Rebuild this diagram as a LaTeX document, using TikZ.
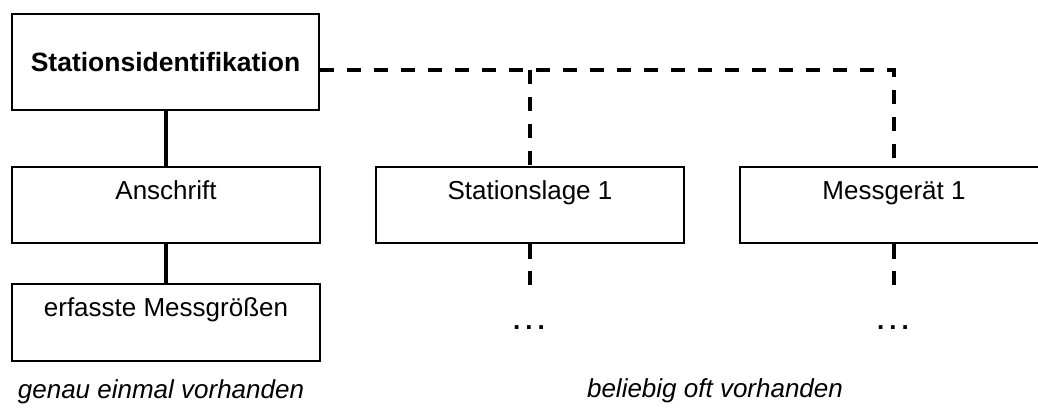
\documentclass[tikz,border=0pt]{standalone}
\usepackage{fontspec}
\setmainfont{Liberation Sans}
\begin{document}
\begin{tikzpicture}[x=1pt,y=-1pt,
  box/.style={draw=black,line width=1.6pt,rectangle,minimum width=308pt,inner xsep=0pt,inner ysep=0pt,
    font=\fontsize{26}{30}\selectfont,text height=32pt,text depth=44pt},
  topbox/.style={draw=black,line width=1.6pt,rectangle,minimum width=307pt,minimum height=96pt,inner sep=0pt,
    font=\fontsize{26.5}{30}\selectfont\bfseries},
  solidcon/.style={line width=3.6pt},
  dashcon/.style={line width=4pt,dash pattern=on 14pt off 13pt},
  dotstxt/.style={font=\fontsize{26}{30}\selectfont\bfseries,inner sep=0pt,anchor=base},
  caption/.style={font=\fontsize{26}{30}\selectfont\itshape,inner sep=0pt,anchor=base}
]
\useasboundingbox (0,0) rectangle (1038,409);
\fill[white] (0,0) rectangle (1038,409);

\node[topbox] (sid) at (165.5,62) {Stationsidentifikation};
\node[box] (an) at (166,205) {Anschrift};
\node[box,text depth=45pt] (em) at (166,322.5) {erfasste Messgrößen};
\node[box] (sl) at (530,205) {Stationslage 1};
\node[box] (mg) at (894,205) {Messgerät 1};

\draw[solidcon] (sid.south -| an.north) -- (an.north);
\draw[solidcon] (an.south) -- (em.north);

\coordinate (j1) at (530,70);
\coordinate (j2) at (894,70);
\draw[dashcon] (sid.east |- j1) -- (j2) -- (mg.north);
\draw[dashcon] (j1) -- (sl.north);

\coordinate (e1) at (530,285);
\coordinate (e2) at (894,285);
\draw[line width=4pt,dash pattern=on 15pt off 12pt] (sl.south) -- (e1);
\draw[line width=4pt,dash pattern=on 15pt off 12pt] (mg.south) -- (e2);

\node[dotstxt] (d1) at (529,329) {.\hspace{5pt}.\hspace{5pt}.};
\node[dotstxt] (d2) at (893,329) {.\hspace{5pt}.\hspace{5pt}.};

\node[caption] (c1) at (161,398) {genau einmal vorhanden};
\node[caption] (c2) at (715,397) {beliebig oft vorhanden};
\end{tikzpicture}
\end{document}
